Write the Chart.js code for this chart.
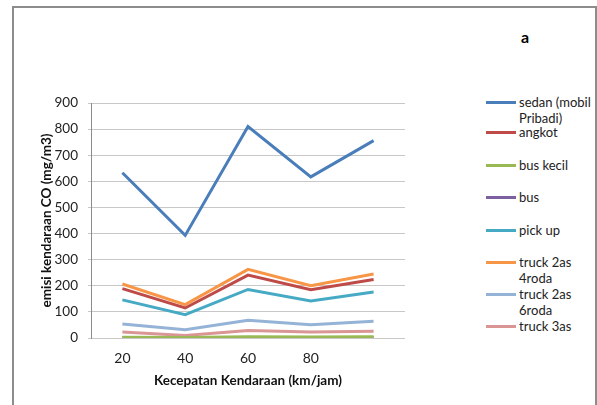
<!DOCTYPE html>
<html>
<head>
<meta charset="utf-8">
<script src="https://cdn.jsdelivr.net/npm/chart.js@4.4.1/dist/chart.umd.min.js"></script>
<style>
  body { margin: 0; background: #fff; font-family: Lato, "Open Sans", sans-serif; }
  #frame { position: absolute; left: 12px; top: 6px; width: 581px; height: 420px; border: 2px solid #8c8c8c; border-bottom: none; }
  #wrap { position: absolute; left: 14px; top: 8px; width: 470px; height: 397px; }
  #mark { position: absolute; left: 521px; top: 27px; font: bold 16px Lato, sans-serif; color: #000; }
  #legend { position: absolute; left: 486px; top: 94px; width: 104px; font-size: 13px; color: #222; }
  .item { position: absolute; left: 0; display: flex; align-items: flex-start; line-height: 16px; white-space: nowrap; }
  .swatch { width: 30px; height: 3px; margin-top: 7px; margin-right: 3px; flex: none; }
</style>
</head>
<body>
<div id="frame"></div>
<div id="mark">a</div>
<div id="wrap"><canvas id="chart"></canvas></div>
<div id="legend"></div>
<script>
// Tick labels on the x axis (fifth one left blank, as in the source)
const speeds = ['20', '40', '60', '80', ''];

// CO emission per vehicle type (mg/m3)
const sedan = [633, 393, 810, 617, 756];
const angkot = [189, 115, 241, 185, 224];
const busKecil = [3, 2, 5, 4, 5];
const bus = [1, 1, 1, 1, 1];
const pickUp = [146, 89, 186, 142, 176];
const truck2as4roda = [207, 128, 263, 200, 245];
const truck2as6roda = [54, 32, 68, 51, 64];
const truck3as = [23, 10, 29, 23, 26];

const seriesNames = ['sedan (mobil Pribadi)', 'angkot', 'bus kecil', 'bus', 'pick up', 'truck 2as 4roda', 'truck 2as 6roda', 'truck 3as'];
const seriesColors = ['#4A7EBB', '#BE4B48', '#98B954', '#7D60A0', '#46AAC5', '#F79646', '#95B3D7', '#D99694'];
const seriesData = [sedan, angkot, busKecil, bus, pickUp, truck2as4roda, truck2as6roda, truck3as];

// legend rows (y offsets in px), text wraps like the original
const legendTop = [0, 30, 63, 95, 128, 160, 192, 224];
const legendText = ['sedan (mobil<br>Pribadi)', 'angkot', 'bus kecil', 'bus', 'pick up', 'truck 2as<br>4roda', 'truck 2as<br>6roda', 'truck 3as'];

const legend = document.getElementById('legend');
seriesNames.forEach((name, i) => {
    const row = document.createElement('div');
    row.className = 'item';
    row.style.top = legendTop[i] + 'px';
    row.innerHTML = '<span class="swatch" style="background:' + seriesColors[i] + '"></span><span>' + legendText[i] + '</span>';
    legend.appendChild(row);
});

const ctx = document.getElementById('chart').getContext('2d');
const datasets = seriesNames.map((name, i) => ({
    label: name,
    data: seriesData[i],
    borderColor: seriesColors[i],
    backgroundColor: seriesColors[i],
    borderWidth: 3,
    pointRadius: 0,
    tension: 0,
    fill: false,
    order: i
}));

new Chart(ctx, {
    type: 'line',
    data: { labels: speeds, datasets: datasets },
    options: {
        responsive: true,
        maintainAspectRatio: false,
        animation: false,
        layout: { padding: { top: 95, right: 79, left: 25, bottom: 0 } },
        plugins: { legend: { display: false }, tooltip: { enabled: false } },
        scales: {
            x: {
                offset: true,
                grid: { display: false, drawTicks: false, offset: true },
                border: { display: false },
                ticks: { color: '#222', font: { family: 'Lato', size: 14 }, padding: 12, maxRotation: 0, autoSkip: false },
                title: {
                    display: true,
                    text: 'Kecepatan Kendaraan (km/jam)',
                    color: '#111',
                    font: { family: 'Lato', size: 13.5, weight: 'bold' },
                    padding: { top: 4, bottom: 16 }
                },
                afterFit: (scale) => { scale.height = 67; }
            },
            y: {
                min: 0,
                max: 900,
                ticks: { stepSize: 100, color: '#222', font: { family: 'Lato', size: 13.5 }, padding: 10 },
                grid: { color: '#c8c8c8', tickLength: 3 },
                border: { color: '#8c8c8c' },
                title: {
                    display: true,
                    text: 'emisi kendaraan CO (mg/m3)',
                    color: '#111',
                    font: { family: 'Lato', size: 13.5, weight: 'bold' },
                    padding: { top: 0, bottom: 6 }
                },
                afterFit: (scale) => { scale.width = 52; }
            }
        }
    }
});
</script>
</body>
</html>
